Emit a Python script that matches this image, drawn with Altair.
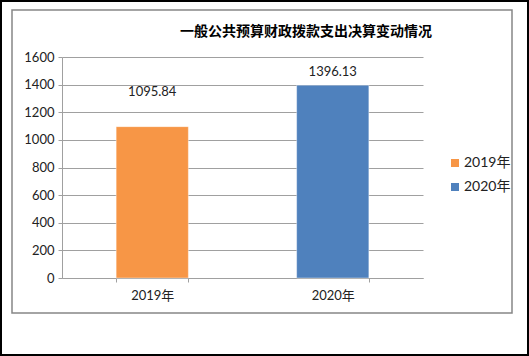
import altair as alt
import pandas as pd

years = ["2019年", "2020年"]
values = [1095.84, 1396.13]
labels = ["1095.84", "1396.13"]
colors = ["#F79646", "#4F81BD"]
title_text = "一般公共预算财政拨款支出决算变动情况"
y_ticks = [0, 200, 400, 600, 800, 1000, 1200, 1400, 1600]

df = pd.DataFrame({"year": years, "value": values, "label": labels})

FONT = "Lato, 'Noto Sans CJK SC', sans-serif"
W, H = 361, 221
xscale = alt.Scale(paddingInner=0.6, paddingOuter=0.3)
GRID = "#A0A0A0"

x_enc = alt.X("year:N", sort=years, scale=xscale,
              axis=alt.Axis(title=None, labelAngle=0, tickBand="extent",
                            labelFontSize=13, labelFont=FONT, labelColor="#222",
                            labelPadding=7, tickSize=4, tickColor=GRID,
                            domainColor=GRID, grid=False))
y_enc = alt.Y("value:Q", scale=alt.Scale(domain=[0, 1600], nice=False),
              axis=alt.Axis(title=None, values=y_ticks, format="d", labelOverlap=False,
                            labelFontSize=13, labelFont=FONT, labelColor="#222",
                            labelPadding=4, tickSize=4, tickColor=GRID,
                            domainColor=GRID, gridColor=GRID, gridWidth=1))

base = alt.Chart(df).encode(x=x_enc, y=y_enc)

bars = base.mark_bar(stroke="#ffffff", strokeOpacity=0.4, strokeWidth=1).encode(
    color=alt.Color("year:N", sort=years,
                    scale=alt.Scale(domain=years, range=colors),
                    legend=alt.Legend(title=None, orient="none", legendX=386, legendY=99,
                                      symbolType="square", symbolSize=64,
                                      symbolStrokeWidth=0, labelFontSize=14,
                                      labelFont=FONT, labelColor="#222",
                                      rowPadding=10, labelOffset=2)),
)

lab1 = base.transform_filter(alt.datum.year == years[0]).mark_text(
    dy=-35, fontSize=13, font=FONT, color="#222", baseline="middle").encode(text="label")
lab2 = base.transform_filter(alt.datum.year == years[1]).mark_text(
    dy=-13, fontSize=13, font=FONT, color="#222", baseline="middle").encode(text="label")

title = alt.Chart(pd.DataFrame({"t": [title_text]})).mark_text(
    font="'Noto Sans CJK SC'", fontSize=14, fontWeight="bold", color="#000",
    baseline="middle", align="center").encode(
    text="t:N", x=alt.value(244), y=alt.value(-25))

inner_box = alt.Chart(df.head(1)).mark_rect(fill=None, stroke="#868686", strokeWidth=1.5).encode(
    x=alt.value(-50), x2=alt.value(450), y=alt.value(-47), y2=alt.value(256))
outer_box = alt.Chart(df.head(1)).mark_rect(fill=None, stroke="#000", strokeWidth=2).encode(
    x=alt.value(-61), x2=alt.value(466), y=alt.value(-56), y2=alt.value(298))

chart = alt.layer(bars, lab1, lab2, title, inner_box, outer_box).properties(
    width=W, height=H,
    autosize=alt.AutoSizeParams(type="none"),
    padding={"left": 62, "top": 57, "right": 106, "bottom": 78},
    background="white",
).configure_view(stroke=None)

chart.save("out.html", embed_options={"renderer": "svg", "actions": False})
